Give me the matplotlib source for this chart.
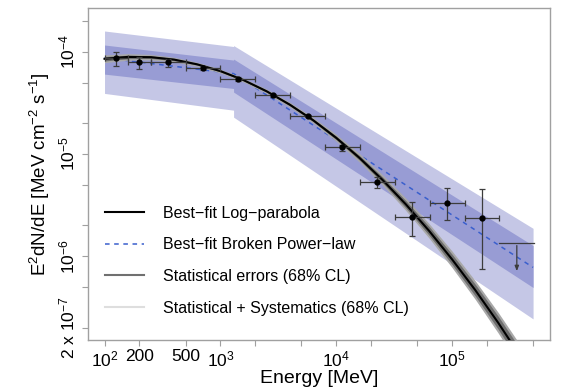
import numpy as np
import matplotlib
matplotlib.use("Agg")
from matplotlib import pyplot as plt
from matplotlib.lines import Line2D
from matplotlib.ticker import FixedLocator, FixedFormatter, NullLocator

plt.rcParams['font.family'] = ['Liberation Sans', 'DejaVu Sans']
plt.rcParams['mathtext.fontset'] = 'custom'
plt.rcParams['mathtext.rm'] = 'Liberation Sans'
plt.rcParams['mathtext.it'] = 'Liberation Sans:italic'

# flux points (MeV, MeV cm-2 s-1)
e_c = [125.7, 199, 354, 707, 1414, 2828, 5657, 11310, 22630, 45250, 90510, 181000]
e_lo = [100, 158, 251, 500, 1000, 2000, 4000, 8000, 16000, 32000, 64000, 128000]
e_hi = [158, 251, 500, 1000, 2000, 4000, 8000, 16000, 32000, 64000, 128000, 256000]
flux = [8.61e-5, 7.87e-5, 7.87e-5, 6.88e-5, 5.37e-5, 3.76e-5, 2.34e-5, 1.164e-5, 5.37e-6, 2.41e-6, 3.31e-6, 2.36e-6]
flux_lo = [7.24e-5, 6.77e-5, 7.13e-5, 6.58e-5, 5.15e-5, 3.60e-5, 2.28e-5, 1.065e-5, 4.64e-6, 1.57e-6, 2.24e-6, 7.52e-7]
flux_hi = [1.0e-4, 8.93e-5, 8.48e-5, 7.20e-5, 5.60e-5, 3.90e-5, 2.40e-5, 1.216e-5, 5.96e-6, 3.39e-6, 4.64e-6, 4.51e-6]

# upper limit in last bin
ul_e, ul_lo, ul_hi = 362000, 256000, 512000
ul_val, ul_arrow = 1.35e-6, 6.7e-7

# log-parabola curve and its error half-widths in dex
lp_e = [100, 158.5, 251.2, 398.1, 631, 1000, 1585, 2512, 3981, 6310, 10000, 15850,
        25120, 39810, 63100, 100000, 158500, 251200, 398100, 631000]
lp_val = [8.53e-5, 8.90e-5, 8.85e-5, 8.38e-5, 7.53e-5, 6.47e-5, 5.28e-5, 4.10e-5, 3.03e-5, 2.14e-5,
          1.436e-5, 9.16e-6, 5.56e-6, 3.22e-6, 1.774e-6, 9.29e-7, 4.65e-7, 2.21e-7, 9.98e-8, 4.30e-8]
lp_stat = [0.022, 0.017, 0.013, 0.010, 0.008, 0.008, 0.008, 0.009, 0.011, 0.014,
           0.018, 0.023, 0.029, 0.036, 0.043, 0.050, 0.057, 0.064, 0.071, 0.078]
lp_tot = [0.038, 0.032, 0.027, 0.023, 0.020, 0.019, 0.019, 0.021, 0.024, 0.028,
          0.034, 0.042, 0.051, 0.061, 0.071, 0.081, 0.091, 0.101, 0.111, 0.121]

# broken power-law and its bands
bpl_e = [100, 1300, 5e5]
bpl_val = [8.73e-5, 6.11e-5, 7.75e-7]
band_e = [100, 1300, 1300, 5e5]
stat_hi = [1.164e-4, 8.29e-5, 8.48e-5, 1.27e-6]
stat_lo = [6.04e-5, 4.37e-5, 4.03e-5, 4.93e-7]
tot_hi = [1.596e-4, 1.125e-4, 1.15e-4, 1.87e-6]
tot_lo = [3.91e-5, 2.68e-5, 2.29e-5, 2.43e-7]

xticks = [100, 200, 500, 1e3, 2e3, 5e3, 1e4, 2e4, 5e4, 1e5, 2e5, 5e5]
xlabels = ['$10^2$', '200', '500', '$10^3$', '', '', '$10^4$', '', '', '$10^5$', '', '']
yticks = [2e-7, 5e-7, 1e-6, 2e-6, 5e-6, 1e-5, 2e-5, 5e-5, 1e-4, 2e-4]
ylabels = ['2 x 10$^{-7}$', '', '10$^{-6}$', '', '', '10$^{-5}$', '', '', '10$^{-4}$', '']

fig = plt.figure(figsize=(5.8, 3.92), dpi=100)
ax = fig.add_axes([88 / 580, 1 - 340 / 392, 462 / 580, 332 / 392])
ax.set_xscale('log')
ax.set_yscale('log')

ax.fill_between(band_e, tot_lo, tot_hi, color='#c5c7e6', lw=0, zorder=1)
ax.fill_between(band_e, stat_lo, stat_hi, color='#989cd4', lw=0, zorder=2)
ax.plot(bpl_e, bpl_val, color='#3a5fcd', lw=1.1, ls=(0, (3, 3)), zorder=3)

lp = np.array(lp_val)
ax.fill_between(lp_e, lp * 10 ** -np.array(lp_tot), lp * 10 ** np.array(lp_tot), color='#a9a9a9', lw=0, zorder=4)
ax.fill_between(lp_e, lp * 10 ** -np.array(lp_stat), lp * 10 ** np.array(lp_stat), color='#6e6e6e', lw=0, zorder=5)
ax.plot(lp_e, lp_val, color='black', lw=1.5, zorder=6)

f = np.array(flux)
xerr = [np.array(e_c) - np.array(e_lo), np.array(e_hi) - np.array(e_c)]
yerr = [f - np.array(flux_lo), np.array(flux_hi) - f]
ax.errorbar(e_c, flux, xerr=xerr, yerr=yerr, fmt='o', color='#3c3c3c', mfc='black', mec='black',
            ms=3.5, elinewidth=0.9, capsize=2.5, capthick=0.9, zorder=7)
ax.plot([ul_lo, ul_hi], [ul_val, ul_val], color='#3c3c3c', lw=0.9, zorder=7)
ax.annotate('', xy=(ul_e, ul_arrow), xytext=(ul_e, ul_val),
            arrowprops=dict(arrowstyle='-|>,head_length=0.3,head_width=0.12', color='#3c3c3c', lw=0.9), zorder=7)

ax.set_xlim(72, 7.0e5)
ax.set_ylim(1.51e-7, 2.68e-4)
ax.xaxis.set_major_locator(FixedLocator(xticks))
ax.xaxis.set_major_formatter(FixedFormatter(xlabels))
ax.xaxis.set_minor_locator(NullLocator())
ax.yaxis.set_major_locator(FixedLocator(yticks))
ax.yaxis.set_major_formatter(FixedFormatter(ylabels))
ax.yaxis.set_minor_locator(NullLocator())
for lab in ax.get_yticklabels():
    lab.set_rotation(90)
    lab.set_va('center')
ax.tick_params(direction='out', length=4.5, width=0.8, color='#a0a0a0', labelsize=12.5, pad=2)
ax.tick_params(axis='y', pad=3)
for s in ax.spines.values():
    s.set_color('#a0a0a0')
    s.set_linewidth(1)

ax.set_xlabel('Energy [MeV]', fontsize=14, labelpad=1)
ax.set_ylabel('E$^2$dN/dE [MeV cm$^{-2}$ s$^{-1}$]', fontsize=13.5, labelpad=4)

handles = [Line2D([], [], color='black', lw=1.5),
           Line2D([], [], color='#3a5fcd', lw=1.1, ls=(0, (3, 3))),
           Line2D([], [], color='#707070', lw=1.5),
           Line2D([], [], color='#dedede', lw=1.5)]
labels = ['Best\u2212fit Log\u2212parabola', 'Best\u2212fit Broken Power\u2212law',
          'Statistical errors (68% CL)', 'Statistical + Systematics (68% CL)']
ax.legend(handles, labels, loc='upper left', bbox_to_anchor=(104.7 / 580, 1 - 205.5 / 392),
          bbox_transform=fig.transFigure, frameon=False, fontsize=11.5, handlelength=2.45,
          handletextpad=1.2, labelspacing=1.05, borderpad=0, borderaxespad=0)

fig.savefig('out.png', dpi=100)
